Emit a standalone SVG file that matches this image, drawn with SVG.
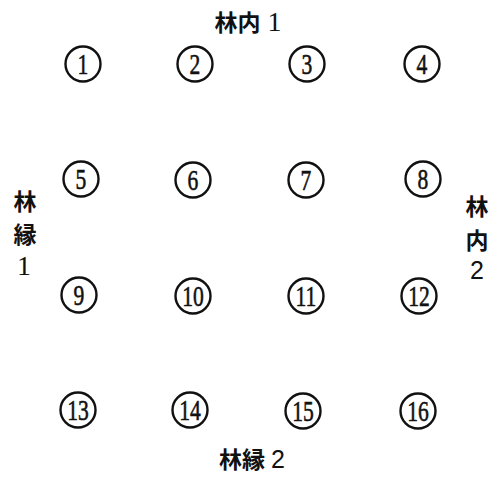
<svg xmlns="http://www.w3.org/2000/svg" width="497" height="477" viewBox="0 0 497 477">
<style>
.c{fill:none;stroke:#111;stroke-width:2.4}
.n{font-family:"Liberation Serif","DejaVu Serif",serif;font-size:30px;fill:#111;text-anchor:middle;stroke:#111;stroke-width:0.6}
.l{font-family:"Noto Sans CJK JP","Noto Sans CJK SC",sans-serif;font-size:23px;font-weight:bold;fill:#111;text-anchor:middle}
.d{font-family:"Liberation Serif",serif;font-weight:normal;font-size:28px}
.s{font-family:"Liberation Sans",sans-serif;font-weight:normal;font-size:25px}
</style>
<rect width="497" height="477" fill="#fff"/>
<g id="connectors"/>
<g id="label-top"><text class="l" x="248" y="31">林内<tspan class="d" dx="7">1</tspan></text></g>
<g id="label-bottom"><text class="l" x="252" y="468">林縁<tspan class="s" dx="6">2</tspan></text></g>
<g id="label-left"><text class="l" x="25" y="210">林</text><text class="l" x="25" y="243">縁</text><text class="l d" x="24" y="275">1</text></g>
<g id="label-right"><text class="l" x="477" y="215">林</text><text class="l" x="477" y="249">内</text><text class="l s" x="477" y="279">2</text></g>
<g id="n1" transform="translate(83,64)"><circle class="c" r="17.5"/><text class="n" y="10" transform="scale(0.72,1)">1</text></g>
<g id="n2" transform="translate(195,64)"><circle class="c" r="17.5"/><text class="n" y="10" transform="scale(0.72,1)">2</text></g>
<g id="n3" transform="translate(307,64)"><circle class="c" r="17.5"/><text class="n" y="10" transform="scale(0.72,1)">3</text></g>
<g id="n4" transform="translate(422,64)"><circle class="c" r="17.5"/><text class="n" y="10" transform="scale(0.72,1)">4</text></g>
<g id="n5" transform="translate(81,179)"><circle class="c" r="17.5"/><text class="n" y="10" transform="scale(0.72,1)">5</text></g>
<g id="n6" transform="translate(193,180)"><circle class="c" r="17.5"/><text class="n" y="10" transform="scale(0.72,1)">6</text></g>
<g id="n7" transform="translate(306,180)"><circle class="c" r="17.5"/><text class="n" y="10" transform="scale(0.72,1)">7</text></g>
<g id="n8" transform="translate(423,179)"><circle class="c" r="17.5"/><text class="n" y="10" transform="scale(0.72,1)">8</text></g>
<g id="n9" transform="translate(79,295)"><circle class="c" r="17.5"/><text class="n" y="10" transform="scale(0.72,1)">9</text></g>
<g id="n10" transform="translate(193,296)"><circle class="c" r="17.5"/><text class="n" y="10" transform="scale(0.72,1)">10</text></g>
<g id="n11" transform="translate(306,296)"><circle class="c" r="17.5"/><text class="n" y="10" transform="scale(0.72,1)">11</text></g>
<g id="n12" transform="translate(419,296)"><circle class="c" r="17.5"/><text class="n" y="10" transform="scale(0.72,1)">12</text></g>
<g id="n13" transform="translate(78,410)"><circle class="c" r="17.5"/><text class="n" y="10" transform="scale(0.72,1)">13</text></g>
<g id="n14" transform="translate(190,410)"><circle class="c" r="17.5"/><text class="n" y="10" transform="scale(0.72,1)">14</text></g>
<g id="n15" transform="translate(303,411)"><circle class="c" r="17.5"/><text class="n" y="10" transform="scale(0.72,1)">15</text></g>
<g id="n16" transform="translate(418,411)"><circle class="c" r="17.5"/><text class="n" y="10" transform="scale(0.72,1)">16</text></g>
</svg>
